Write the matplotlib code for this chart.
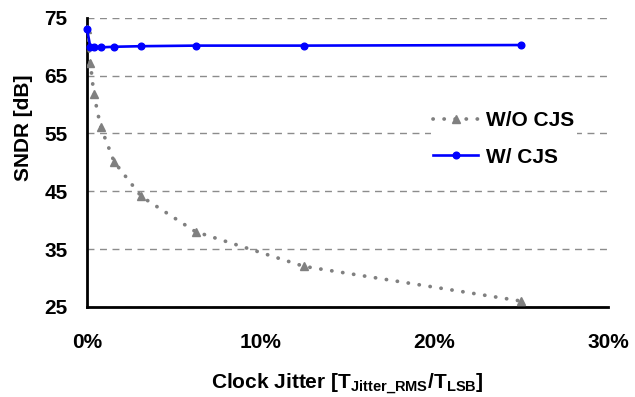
import matplotlib
matplotlib.use("Agg")
import matplotlib.pyplot as plt
from matplotlib.ticker import FuncFormatter

plt.rcParams['font.family'] = ['Liberation Sans', 'DejaVu Sans']
plt.rcParams['font.weight'] = 'bold'
plt.rcParams['mathtext.fontset'] = 'custom'
plt.rcParams['mathtext.rm'] = 'Liberation Sans:bold'
plt.rcParams['mathtext.bf'] = 'Liberation Sans:bold'

# jitter in % of T_LSB
jitter = [0, 0.195, 0.39, 0.78, 1.5625, 3.125, 6.25, 12.5, 25]
sndr_ohne_cjs = [73.1, 67.2, 61.9, 56.2, 50.1, 44.1, 38.0, 32.0, 26.0]
sndr_mit_cjs = [73.1, 69.9, 69.9, 69.9, 70.0, 70.1, 70.2, 70.2, 70.3]

y_ticks = [25, 35, 45, 55, 65, 75]
x_ticks = [0, 10, 20, 30]

fs = 15

fig = plt.figure(figsize=(6.35, 3.97), dpi=100)
ax = fig.add_axes([0.137, 0.227, 0.821, 0.728])

ax.plot(jitter, sndr_ohne_cjs, color='#808080', linestyle=(0, (0.05, 2.9)),
        dash_capstyle='round', linewidth=2.7, marker='^', markersize=5.5,
        label='W/O CJS', zorder=3)
ax.plot(jitter, sndr_mit_cjs, color='#0000ff', linewidth=1.9, marker='o',
        markersize=4.8, label='W/ CJS', zorder=4, clip_on=False)

ax.set_xlim(0, 30)
ax.set_ylim(25, 75)
ax.set_xticks(x_ticks)
ax.set_yticks(y_ticks)
ax.xaxis.set_major_formatter(FuncFormatter(lambda v, p: f"{v:.0f}%"))
ax.tick_params(length=0, labelsize=fs)
ax.tick_params(axis='x', pad=18.5)
ax.tick_params(axis='y', pad=14)

ax.grid(axis='y', color='#8c8c8c', linestyle=(0, (5, 4)), linewidth=1.0)
ax.set_axisbelow(True)
for s in ['top', 'right']:
    ax.spines[s].set_visible(False)
for s in ['left', 'bottom']:
    ax.spines[s].set_linewidth(2)
    ax.spines[s].set_color('black')

ax.set_ylabel('SNDR [dB]', fontsize=fs, fontweight='bold')
ax.yaxis.set_label_coords(-0.104, 0.62)
ax.set_xlabel(r'Clock Jitter [T$_{\mathrm{Jitter\_RMS}}$/T$_{\mathrm{LSB}}$]',
              fontsize=fs, fontweight='bold', labelpad=15)

leg = ax.legend(loc='center left', bbox_to_anchor=(0.660, 0.582), frameon=True,
                facecolor='white', edgecolor='none', framealpha=1,
                fontsize=fs, labelspacing=0.85, handlelength=2.15,
                handletextpad=0.4, borderpad=0.1, borderaxespad=0,
                fancybox=False)

fig.savefig('out.png', dpi=100)
